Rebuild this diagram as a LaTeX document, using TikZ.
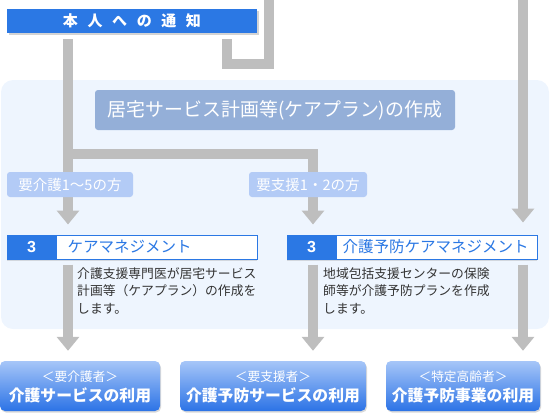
\documentclass[tikz,border=0pt]{standalone}
\usepackage{fontspec}
\setmainfont{Noto Sans CJK JP}
\newfontfamily\arial{Liberation Sans}
\usetikzlibrary{arrows.meta,shadows,calc}
\definecolor{mblue}{HTML}{2B78E4}
\definecolor{lgray}{HTML}{BEBEBE}
\definecolor{bgblue}{HTML}{EEF5FE}
\definecolor{planblue}{HTML}{94AFD8}
\definecolor{labblue}{HTML}{B3CBF6}
\definecolor{desctext}{HTML}{333333}
\definecolor{gradtop}{HTML}{A6C6F8}
\definecolor{gradbot}{HTML}{2C73E6}
\newcommand{\fsz}[1]{\fontsize{#1}{#1}\selectfont}
\pgfdeclarelayer{bglayer}
\pgfdeclarelayer{connlayer}
\pgfsetlayers{bglayer,connlayer,main}
\begin{document}
\begin{tikzpicture}[x=1pt,y=-1pt,
  conn/.style={draw=lgray,line width=10pt,line join=miter},
  arr/.style={conn,-{Triangle[width=22pt,length=14pt]}},
  noticebox/.style={fill=mblue,minimum width=250pt,minimum height=24pt,inner sep=0pt,
    text=white,font=\bfseries\fsz{15},
    drop shadow={shadow xshift=1.5pt,shadow yshift=-1.5pt,opacity=0.35}},
  planbox/.style={fill=planblue,rounded corners=3pt,minimum width=360pt,minimum height=40pt,
    inner sep=0pt,text=white,font=\fsz{18.9}},
  labbox/.style={fill=labblue,rounded corners=3pt,minimum height=25pt,inner sep=0pt,
    text=white,font=\fsz{14.5}},
  cmbox/.style={draw=mblue,line width=1pt,fill=white,minimum width=250pt,minimum height=24pt,
    inner sep=0pt,drop shadow={shadow xshift=0pt,shadow yshift=-1.5pt,opacity=0.25}},
  numtxt/.style={text=white,font=\arial\bfseries\fsz{16},inner sep=0pt},
  cmtxt/.style={text=mblue,font=\fsz{15.5},inner sep=0pt},
  desc/.style={align=left,inner sep=0pt,text=desctext,font=\fontsize{12.8}{17.7}\selectfont},
  outbox/.style={rounded corners=5pt,top color=gradtop,bottom color=gradbot,minimum height=50pt,
    inner sep=0pt,drop shadow={shadow xshift=1pt,shadow yshift=-1.5pt,opacity=0.3}},
  subtxt/.style={text=white,font=\fsz{12.7},inner sep=0pt},
  maintxt/.style={text=white,font=\bfseries\fsz{15.8},inner sep=0pt}
]
\useasboundingbox (0,0) rectangle (550,416);
\begin{pgfonlayer}{bglayer}
  \fill[bgblue,rounded corners=12pt] (1,80) rectangle (549,329);
\end{pgfonlayer}

% nodes
\node[noticebox] (notice) at (132,21) {本\hspace{9.6pt}人\hspace{9.6pt}へ\hspace{9.6pt}の\hspace{9.6pt}通\hspace{9.6pt}知};
\node[planbox] (plan) at (275,110) {居宅サービス計画等(ケアプラン)の作成};
\node[labbox,minimum width=126pt] (lab1) at (70,184.5) {要介護1～5の方};
\node[labbox,minimum width=118pt] (lab2) at (308,184.5) {要支援1・2の方};

\node[cmbox] (cm1) at (132,247) {};
\fill[mblue] (cm1.north west) rectangle ($(cm1.south west)+(50,0)$);
\node[numtxt] (cm1n) at ($(cm1.west)+(25,0)$) {3};
\node[cmtxt,anchor=west] (cm1t) at ($(cm1.west)+(61,0)$) {ケアマネジメント};

\node[cmbox] (cm2) at (412,247) {};
\fill[mblue] (cm2.north west) rectangle ($(cm2.south west)+(50,0)$);
\node[numtxt] (cm2n) at ($(cm2.west)+(25,0)$) {3};
\node[cmtxt,anchor=west] (cm2t) at ($(cm2.west)+(56,0)$) {介護予防ケアマネジメント};

\node[desc,anchor=north west] (d1) at (77,267) {介護支援専門医が居宅サービス\\計画等（ケアプラン）の作成を\\します。};
\node[desc,anchor=north west] (d2) at (323,267) {地域包括支援センターの保険\\師等が介護予防プランを作成\\します。};

\node[outbox,minimum width=160pt] (out1) at (80,386) {};
\node[outbox,minimum width=186pt] (out2) at (273,386) {};
\node[outbox,minimum width=154pt] (out3) at (463,386) {};
\node[subtxt] (o1s) at ($(out1.north)+(0,16)$) {＜要介護者＞};
\node[maintxt] (o1m) at ($(out1.north)+(0,35)$) {介護サービスの利用};
\node[subtxt] (o2s) at ($(out2.north)+(0,16)$) {＜要支援者＞};
\node[maintxt] (o2m) at ($(out2.north)+(0,35)$) {介護予防サービスの利用};
\node[subtxt] (o3s) at ($(out3.north)+(0,16)$) {＜特定高齢者＞};
\node[maintxt] (o3m) at ($(out3.north)+(0,35)$) {介護予防事業の利用};

% connectors
\coordinate (c1) at (68,0);
\coordinate (c2) at (313,0);
\coordinate (c3) at (523,0);
\coordinate (br) at (313,153.5);
\coordinate (lcx) at (227,0);
\coordinate (lc) at (269,0);
\begin{pgfonlayer}{connlayer}
  \draw[arr] ($(notice.south -| c1)+(0,6)$) -- ($(cm1.north -| c1)-(0,10)$);
  \draw[arr] (c1 |- br) -- (br) -- ($(cm2.north -| c2)-(0,10)$);
  \draw[arr] (c3) -- ($(cm2.north -| c3)-(0,12)$);
  \draw[conn] ($(notice.south -| lcx)+(0,6)$) -- ++(0,25) -| (lc);
  \draw[arr] ($(cm1.south -| c1)+(0,5)$) -- ($(out1.north -| c1)-(0,10)$);
  \draw[arr] ($(cm2.south -| c2)+(0,5)$) -- ($(out2.north -| c2)-(0,10)$);
  \draw[arr] ($(cm2.south -| c3)+(0,5)$) -- ($(out3.north -| c3)-(0,10)$);
\end{pgfonlayer}
\end{tikzpicture}
\end{document}
